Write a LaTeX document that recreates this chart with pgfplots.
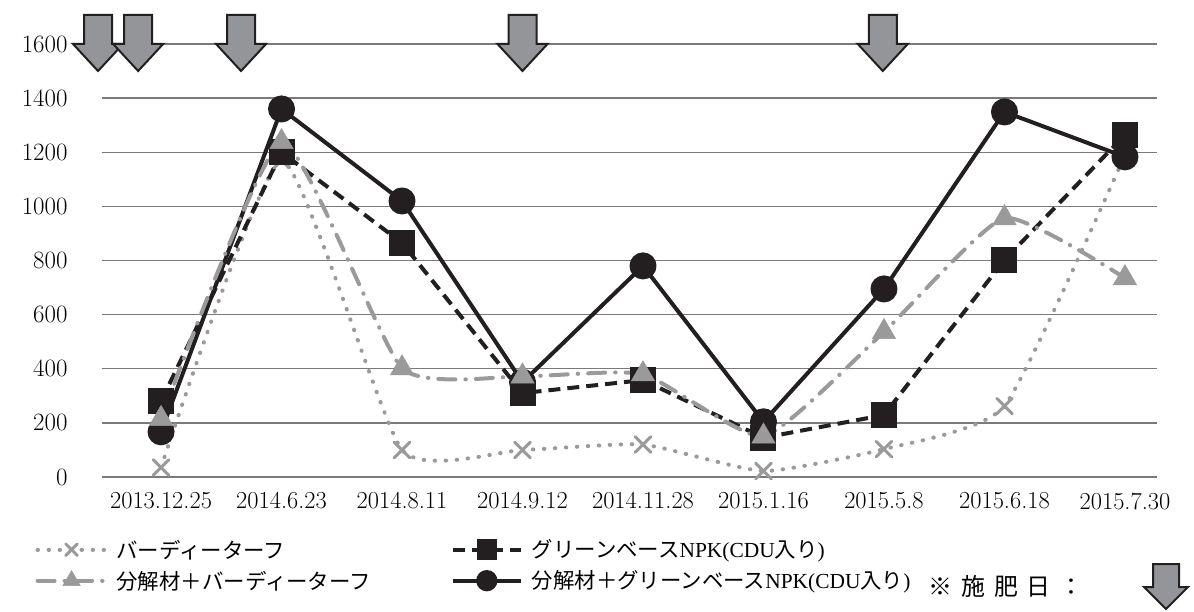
\documentclass[border=0pt]{standalone}
\usepackage{fontspec}
\usepackage{pgfplots}
\pgfplotsset{compat=1.18}
\newfontfamily\cjk{Noto Sans CJK JP}
\newfontfamily\lat{Liberation Serif}

\definecolor{ink}{HTML}{231F20}
\definecolor{lgray}{HTML}{9A9A9A}
\definecolor{agray}{HTML}{939598}
\definecolor{gridc}{HTML}{7A7A7A}

\pgfplotsset{
  s1/.style={lgray, line width=4bp, line cap=round, dash pattern=on 0.5bp off 10.5bp,
    smooth, tension=0.3, mark=x, mark size=11bp,
    mark options={solid, line width=3bp, lgray}},
  s2/.style={ink, line width=4bp, dash pattern=on 12bp off 7bp,
    mark=square*, mark size=11bp, mark options={solid, fill=ink}},
  s3/.style={lgray, line width=4bp, line cap=round,
    dash pattern=on 17bp off 10bp on 0.5bp off 10bp,
    smooth, tension=0.3, mark=triangle*, mark size=13.5bp,
    mark options={solid, fill=lgray, draw=lgray, line width=0.5bp}},
  s4/.style={ink, line width=4bp, line join=round,
    mark=*, mark size=11.5bp, mark options={solid, fill=ink}},
}

\begin{document}
\begin{tikzpicture}
\begin{axis}[
  name=main,
  width=1055bp, height=433bp, scale only axis,
  xmin=-0.49, xmax=8.266, ymin=0, ymax=1600,
  xtick={0,...,8},
  xticklabels={2013.12.25,2014.6.23,2014.8.11,2014.9.12,2014.11.28,2015.1.16,2015.5.8,2015.6.18,2015.7.30},
  ytick={0,200,...,1600},
  axis line style={draw=none},
  major tick length=0pt,
  ymajorgrids,
  major grid style={gridc, line width=1.3bp},
  clip=false,
  /pgf/number format/assume math mode=true,
  /pgf/number format/1000 sep={},
  yticklabel style={font=\fontsize{25}{25}\selectfont, anchor=east, xshift=-31bp},
  xticklabel style={font=\fontsize{24.5}{24.5}\selectfont, yshift=-12bp},
  legend image code/.code={\draw[mark repeat=2, mark phase=2, #1,
      every mark/.append style={scale=0.75}]
    plot coordinates {(0bp,0bp) (34bp,0bp) (68bp,0bp)};},
  legend cell align=left,
  legend columns=2,
  legend style={draw=none, fill=none, at={(-0.066,-0.14)}, anchor=north west,
    font=\fontsize{21.5}{21.5}\selectfont, nodes={inner sep=0bp}, row sep=11bp,
    /tikz/every odd column/.append style={column sep=9bp},
    /tikz/every even column/.append style={column sep=80bp}},
]
\addlegendimage{s1}
\addlegendentry{\cjk バーディーターフ}
\addlegendimage{s2}
\addlegendentry{{\cjk グリーンベース}{\lat NPK(CDU}{\cjk 入り}{\lat )}}
\addlegendimage{s3}
\addlegendentry{\cjk 分解材＋バーディーターフ}
\addlegendimage{s4}
\addlegendentry{{\cjk 分解材＋グリーンベース}{\lat NPK(CDU}{\cjk 入り}{\lat )}}

% バーディーターフ
\addplot[s1, forget plot] coordinates {(0,35) (1,1170) (2,100) (3,100) (4,120) (5,22) (6,103) (7,262) (8,1190)};
% グリーンベースNPK(CDU入り)
\addplot[s2, forget plot] coordinates {(0,280) (1,1200) (2,865) (3,310) (4,358) (5,145) (6,229) (7,802) (8,1264)};
% 分解材＋グリーンベースNPK(CDU入り)
\addplot[s4, forget plot] coordinates {(0,167) (1,1360) (2,1020) (3,350) (4,780) (5,204) (6,695) (7,1349) (8,1183)};
% 分解材＋バーディーターフ
\addplot[s3, forget plot] coordinates {(0,215) (1,1238) (2,402) (3,372) (4,380) (5,150) (6,536) (7,957) (8,735)};

% 施肥日
\coordinate (f1) at (axis cs:-0.523,1600);
\coordinate (f2) at (axis cs:-0.19,1600);
\coordinate (f3) at (axis cs:0.664,1600);
\coordinate (f4) at (axis cs:3.0,1600);
\coordinate (f5) at (axis cs:5.99,1600);
\end{axis}

\foreach \f in {f1,f2,f3,f4,f5}
  \draw[fill=agray, draw=ink, line width=2bp, line join=miter]
    (\f) ++(0,-27bp) -- ++(-25bp,27bp) -- ++(11bp,0) -- ++(0,29bp)
    -- ++(28bp,0) -- ++(0,-29bp) -- ++(11bp,0) -- cycle;

\node[anchor=west, inner sep=0bp, font=\fontsize{24}{24}\selectfont\cjk]
  at ([shift={(928bp-102bp,477bp-586bp)}]main.south west)
  {※\hspace{9bp}施\hspace{9bp}肥\hspace{9bp}日\hspace{9bp}：};
\draw[fill=agray, draw=ink, line width=2bp, line join=miter]
  ([shift={(1166bp-102bp,477bp-609bp)}]main.south west)
  -- ++(-22bp,22bp) -- ++(9bp,0) -- ++(0,23bp) -- ++(26bp,0) -- ++(0,-23bp)
  -- ++(9bp,0) -- cycle;

\pgfresetboundingbox
\path[use as bounding box] (main.south west) ++(-102bp,-135bp) rectangle ++(1194bp,612bp);
\end{tikzpicture}
\end{document}
